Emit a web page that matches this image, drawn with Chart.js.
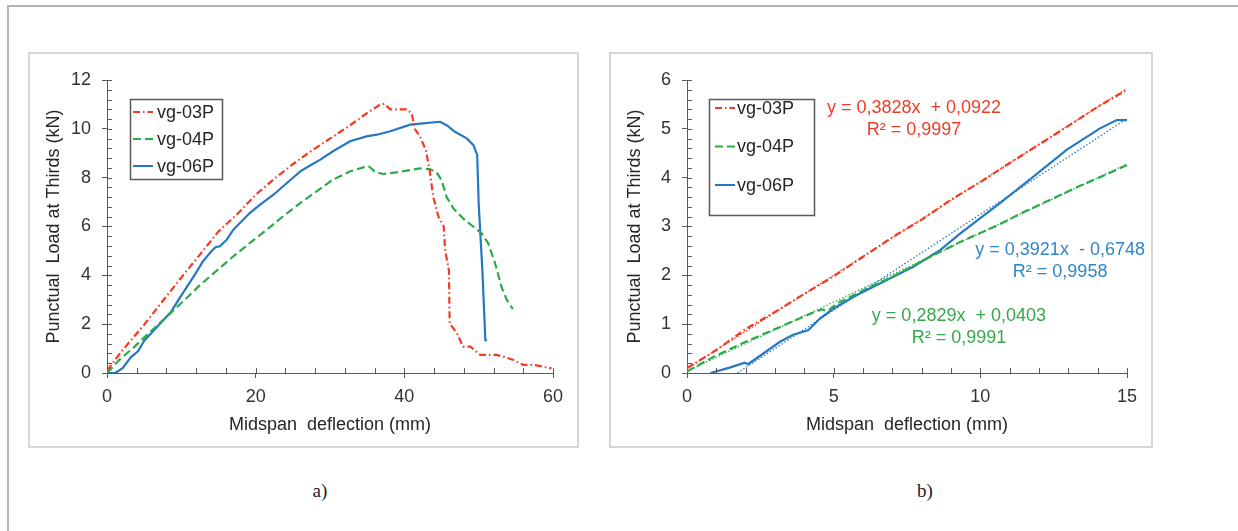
<!DOCTYPE html>
<html>
<head>
<meta charset="utf-8">
<script src="https://cdn.jsdelivr.net/npm/chart.js@4.4.1/dist/chart.umd.min.js"></script>
<style>
  body { margin: 0; background: #fff; width: 1238px; height: 531px; overflow: hidden; position: relative; }
  .frame { position: absolute; left: 7px; top: 5px; width: 1300px; height: 600px; border: 2px solid #b4b4b4; }
  .panel { position: absolute; top: 52px; height: 396px; box-sizing: border-box; border: 2px solid #d6d6d6; }
  canvas { position: absolute; top: 52px; }
  .cap { position: absolute; top: 480px; width: 40px; text-align: center; font-family: 'Liberation Serif', 'DejaVu Serif', serif; font-size: 19px; color: #222; }
</style>
</head>
<body>
<div class="frame"></div>
<div class="panel" style="left:28px;width:551px"></div>
<div class="panel" style="left:609px;width:544px"></div>
<canvas id="chartA" width="550" height="396" style="left:28px"></canvas>
<canvas id="chartB" width="543" height="396" style="left:609px"></canvas>
<div class="cap" style="left:300px">a)</div>
<div class="cap" style="left:905px">b)</div>

<script>
// series names
const seriesNames = ['vg-03P', 'vg-04P', 'vg-06P'];

// a) full test, deflection (mm) / load (kN)
const a03X = [0, 2, 5, 7.5, 10, 12.5, 15, 17.5, 20, 22.5, 25, 27.5, 30, 32.5, 35, 36.7, 37.3, 38.1, 40.3, 41.0, 41.4, 42.1, 42.9, 43.4, 43.9, 44.6, 45.3, 45.5, 46.0, 46.1, 47.1, 47.9, 48.9, 50.2, 51.6, 52.4, 53.3, 54.7, 56.0, 57.4, 58.7, 59.8];
const a03Y = [0.1, 0.9, 1.98, 2.95, 3.91, 4.85, 5.8, 6.5, 7.3, 7.95, 8.55, 9.1, 9.6, 10.1, 10.65, 10.98, 11.02, 10.8, 10.8, 10.63, 10.0, 9.68, 9.13, 8.31, 7.2, 6.4, 6.0, 5.0, 4.2, 2.03, 1.62, 1.08, 1.08, 0.74, 0.74, 0.74, 0.67, 0.53, 0.33, 0.33, 0.26, 0.19];

const a04X = [0, 1.7, 3.5, 5.8, 8.1, 10.3, 12.5, 14.8, 17, 19.2, 21.5, 23.7, 26, 28.2, 30.4, 32.7, 34.5, 35.2, 35.6, 36.1, 37.2, 39.4, 42.1, 43.4, 44.3, 45.0, 45.7, 46.6, 47.9, 49.3, 50.4, 51.3, 52.2, 53.1, 53.8, 54.6];
const a04Y = [0, 0.55, 1.02, 1.68, 2.33, 2.95, 3.6, 4.2, 4.78, 5.32, 5.87, 6.42, 6.96, 7.44, 7.92, 8.26, 8.42, 8.46, 8.37, 8.22, 8.15, 8.24, 8.38, 8.35, 8.24, 7.9, 7.2, 6.74, 6.33, 5.99, 5.72, 5.3, 4.5, 3.5, 2.99, 2.61];

const a06X = [0, 1.1, 2.1, 3.2, 4.2, 5.0, 6.6, 8.6, 10.0, 11.8, 12.9, 14.1, 14.6, 15.2, 16.1, 17.0, 19.2, 20.6, 22.4, 24.2, 26.0, 27.5, 28.7, 30.4, 32.7, 34.9, 36.3, 38.1, 40.8, 42.5, 44.8, 45.7, 46.8, 48.4, 49.3, 49.8, 50.0, 50.5, 50.9, 51.1];
const a06Y = [0, 0, 0.2, 0.64, 0.9, 1.32, 1.84, 2.5, 3.18, 4.02, 4.57, 5.01, 5.15, 5.19, 5.46, 5.87, 6.55, 6.9, 7.3, 7.78, 8.26, 8.53, 8.74, 9.08, 9.49, 9.69, 9.76, 9.9, 10.17, 10.22, 10.29, 10.15, 9.88, 9.61, 9.33, 8.93, 6.95, 4.2, 1.35, 1.32];

// b) first 15 mm
const b03X = [0, 1, 2, 3, 4, 5, 6, 7, 8, 9, 10, 11, 12, 13, 14, 15];
const b03Y = [0.1, 0.47, 0.9, 1.25, 1.62, 1.98, 2.38, 2.78, 3.14, 3.55, 3.91, 4.3, 4.68, 5.06, 5.45, 5.8];

const b04X = [0, 0.9, 2.0, 3.2, 4.3, 4.6, 4.8, 5.1, 6.1, 7.1, 8.3, 9.3, 10.5, 11.5, 12.5, 13.5, 14.5, 15];
const b04Y = [0.03, 0.33, 0.64, 0.95, 1.24, 1.3, 1.27, 1.42, 1.72, 2.0, 2.38, 2.68, 3.0, 3.3, 3.58, 3.86, 4.12, 4.26];

const b06X = [0.8, 1.45, 1.97, 2.08, 2.2, 2.7, 3.17, 3.6, 4.14, 4.54, 5.0, 5.68, 6.59, 7.73, 8.64, 9.32, 10.1, 10.67, 11.81, 12.94, 14.08, 14.65, 15];
const b06Y = [0, 0.11, 0.21, 0.18, 0.23, 0.44, 0.64, 0.78, 0.88, 1.12, 1.32, 1.56, 1.84, 2.18, 2.52, 2.86, 3.22, 3.48, 4.02, 4.57, 5.01, 5.18, 5.18];

// linear trend lines (end points)
const t03X = [0, 15], t03Y = [0.09, 5.83];
const t04X = [0, 15], t04Y = [0.04, 4.28];
const t06X = [1.72, 15], t06Y = [0, 5.21];

// trend equations
const eqLines = ['y = 0,3828x  + 0,0922', 'y = 0,2829x  + 0,0403', 'y = 0,3921x  - 0,6748'];
const r2Lines = ['R² = 0,9997', 'R² = 0,9991', 'R² = 0,9958'];

// axis ticks
const xTicksA = [0, 20, 40, 60];
const yTicksA = [0, 2, 4, 6, 8, 10, 12];
const xTicksB = [0, 5, 10, 15];
const yTicksB = [0, 1, 2, 3, 4, 5, 6];

const FONT = "'Liberation Sans', Arial, sans-serif";
const RED = '#f43a22', GREEN = '#2bab4a', BLUE = '#2479c2';
const AXIS = '#595959', TEXT = '#333333';

Chart.defaults.font.family = FONT;
Chart.defaults.color = TEXT;

function pts(xs, ys) {
    return xs.map((x, i) => ({ x: x, y: ys[i] }));
}

// minor ticks inside the plot + inner half of the major ticks
const minorTicks = {
    id: 'minorTicks',
    afterDatasetsDraw(chart, args, o) {
        const ctx = chart.ctx;
        const xs = chart.scales.x, ys = chart.scales.y;
        ctx.save();
        ctx.strokeStyle = AXIS;
        ctx.lineWidth = 1;
        ctx.beginPath();
        for (let v = xs.min + o.xStep; v <= xs.max + 1e-9; v += o.xStep) {
            const px = Math.round(xs.getPixelForValue(v)) + 0.5;
            ctx.moveTo(px, ys.bottom);
            ctx.lineTo(px, ys.bottom - 5);
        }
        for (let v = ys.min + o.yStep; v <= ys.max + 1e-9; v += o.yStep) {
            const py = Math.round(ys.getPixelForValue(v)) + 0.5;
            ctx.moveTo(xs.left, py);
            ctx.lineTo(xs.left + 5, py);
        }
        ctx.stroke();
        ctx.restore();
    }
};

// legend drawn inside the plot area, in a framed box
const boxLegend = {
    id: 'boxLegend',
    afterDatasetsDraw(chart, args, o) {
        const ctx = chart.ctx;
        ctx.save();
        ctx.fillStyle = '#fff';
        ctx.fillRect(o.left, o.top, o.width, o.height);
        ctx.strokeStyle = AXIS;
        ctx.lineWidth = 1.5;
        ctx.strokeRect(o.left + 0.5, o.top + 0.5, o.width, o.height);
        chart.data.datasets.filter(d => !d.trend).forEach((d, i) => {
            const y = o.top + o.first + i * o.step;
            ctx.strokeStyle = d.borderColor;
            ctx.lineWidth = 2;
            ctx.setLineDash(d.borderDash || []);
            ctx.beginPath();
            ctx.moveTo(o.left + o.sample, y);
            ctx.lineTo(o.left + o.sample + 20, y);
            ctx.stroke();
            ctx.setLineDash([]);
            ctx.fillStyle = '#262626';
            ctx.font = '18px ' + FONT;
            ctx.textBaseline = 'middle';
            ctx.fillText(d.label, o.left + o.text, y + 1);
        });
        ctx.restore();
    }
};

// trendline equations, anchored in data units
const eqLabels = {
    id: 'eqLabels',
    afterDatasetsDraw(chart, args, o) {
        if (!o.items) return;
        const ctx = chart.ctx;
        const xs = chart.scales.x, ys = chart.scales.y;
        ctx.save();
        ctx.font = '18px ' + FONT;
        ctx.textAlign = 'center';
        ctx.textBaseline = 'middle';
        o.items.forEach(it => {
            const px = xs.getPixelForValue(it.x), py = ys.getPixelForValue(it.y);
            ctx.fillStyle = it.color;
            ctx.fillText(eqLines[it.idx], px, py);
            ctx.fillText(r2Lines[it.idx], px, py + 22);
        });
        ctx.restore();
    }
};

function axisOptions(ticksArr, title, isX, width) {
    return {
        type: 'linear',
        min: ticksArr[0],
        max: ticksArr[ticksArr.length - 1],
        border: { color: AXIS, width: 1 },
        grid: { drawOnChartArea: false, drawTicks: true, tickLength: 5, color: AXIS },
        ticks: {
            stepSize: ticksArr[1] - ticksArr[0],
            padding: isX ? 8 : 11,
            color: TEXT,
            font: { size: 18 }
        },
        title: {
            display: true,
            text: title,
            color: '#262626',
            font: { size: 18 },
            padding: isX ? { top: 0, bottom: 12 } : { top: 15, bottom: 0 }
        },
        afterFit: function(scale) {
            if (isX) scale.height = 75; else scale.width = width;
        }
    };
}

function baseOptions(xt, yt, yWidth, padRight, plugins) {
    return {
        responsive: false,
        animation: false,
        layout: { padding: { top: 28, right: padRight, bottom: 0, left: 0 } },
        elements: { point: { radius: 0 }, line: { tension: 0 } },
        plugins: Object.assign({ legend: { display: false }, tooltip: { enabled: false } }, plugins),
        scales: {
            x: axisOptions(xt, 'Midspan  deflection (mm)', true),
            y: axisOptions(yt, 'Punctual  Load at Thirds (kN)', false, yWidth)
        }
    };
}

function series(label, data, color, dash) {
    return { label: label, data: data, borderColor: color, borderWidth: 2.2, borderDash: dash, showLine: true, fill: false };
}

function trend(data, color) {
    return { trend: true, data: data, borderColor: color, borderWidth: 1.3, borderDash: [1.5, 2], showLine: true, fill: false };
}

new Chart(document.getElementById('chartA'), {
    type: 'scatter',
    data: {
        datasets: [
            series(seriesNames[0], pts(a03X, a03Y), RED, [7, 3, 1.5, 3]),
            series(seriesNames[1], pts(a04X, a04Y), GREEN, [8, 4]),
            series(seriesNames[2], pts(a06X, a06Y), BLUE, [])
        ]
    },
    options: baseOptions(xTicksA, yTicksA, 79, 25, {
        minorTicks: { xStep: 4, yStep: 0.4 },
        boxLegend: { left: 102, top: 47, width: 92, height: 80, first: 13, step: 27, sample: 3, text: 27 }
    }),
    plugins: [minorTicks, boxLegend]
});

new Chart(document.getElementById('chartB'), {
    type: 'scatter',
    data: {
        datasets: [
            trend(pts(t03X, t03Y), RED),
            trend(pts(t04X, t04Y), GREEN),
            trend(pts(t06X, t06Y), BLUE),
            series(seriesNames[0], pts(b03X, b03Y), RED, [7, 3, 1.5, 3]),
            series(seriesNames[1], pts(b04X, b04Y), GREEN, [8, 4]),
            series(seriesNames[2], pts(b06X, b06Y), BLUE, [])
        ]
    },
    options: baseOptions(xTicksB, yTicksB, 78, 25, {
        minorTicks: { xStep: 1, yStep: 0.2 },
        boxLegend: { left: 100, top: 47, width: 105, height: 116, first: 9, step: 38.5, sample: 6, text: 28 },
        eqLabels: { items: [
            { idx: 0, x: 7.74, y: 5.43, color: '#f03c28' },
            { idx: 2, x: 12.72, y: 2.52, color: '#2f86c8' },
            { idx: 1, x: 9.27, y: 1.17, color: '#36a84a' }
        ] }
    }),
    plugins: [minorTicks, boxLegend, eqLabels]
});
</script>
</body>
</html>
